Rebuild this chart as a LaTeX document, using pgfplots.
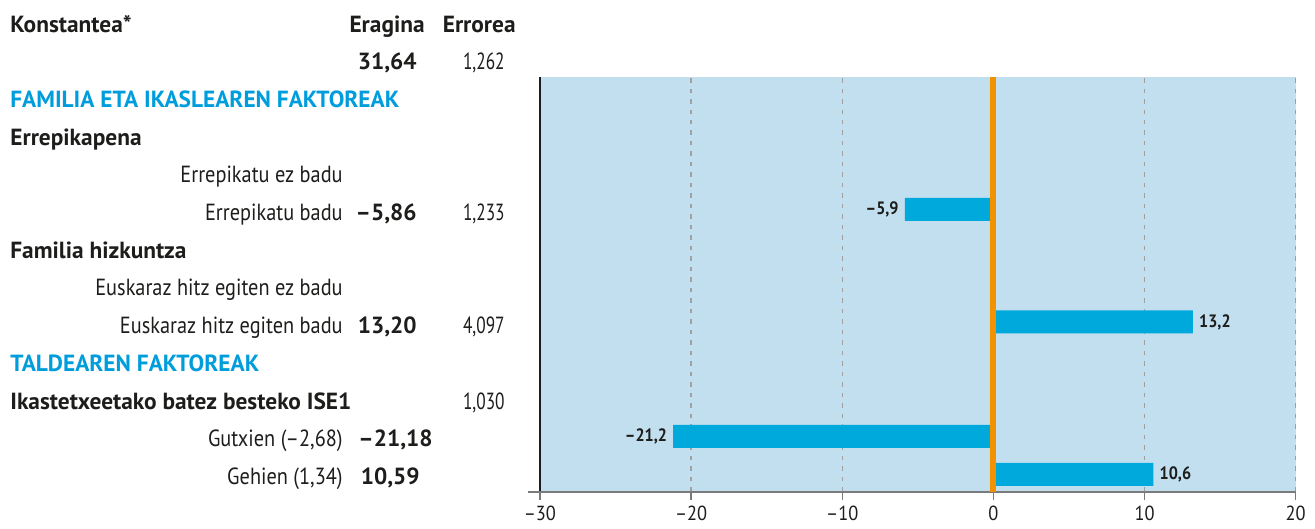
\documentclass[border=0pt]{standalone}
\usepackage{fontspec}
\setmainfont{PT Sans}
\newfontfamily\condfont{PT Sans}[FakeStretch=0.9]
\newfontfamily\regf{PT Sans}[FakeStretch=0.87]
\newfontfamily\numf{PT Sans}[FakeStretch=0.74]
\usepackage{pgfplots}
\pgfplotsset{compat=1.18}
\definecolor{panel}{HTML}{C2DFF0}
\definecolor{barblue}{HTML}{00A9DB}
\definecolor{headblue}{HTML}{009DDC}
\definecolor{zeroline}{HTML}{F39200}
\definecolor{txt}{HTML}{1D1D1B}
\definecolor{gridgray}{HTML}{A0A0A0}
\definecolor{axisgray}{HTML}{7A7A7A}
\begin{document}
\begin{tikzpicture}[x=0.02cm,y=-0.02cm]
\useasboundingbox (0,0) rectangle (1315,528);
\begin{axis}[
 at={(10.8cm,-9.84cm)}, anchor=south west,
 scale only axis, width=15.12cm, height=8.3cm,
 xmin=-30, xmax=20, ymin=36, ymax=451,
 axis background/.style={fill=panel},
 axis x line*=bottom, axis y line*=left,
 x axis line style={-, draw=axisgray, line width=1.6pt},
 y axis line style={-, draw=txt, line width=0.8pt},
 xtick={-30,-20,-10,0,10,20},
 xticklabels={–30,–20,–10,0,10,20},
 ytick=\empty,
 tick align=outside,
 major tick length=0.17cm,
 x tick style={draw=axisgray, line width=0.8pt},
 xmajorgrids, grid style={gridgray, dash pattern=on 0.09cm off 0.12cm, line width=0.7pt},
 xticklabel style={font=\condfont\fontsize{11.6}{12}\selectfont, text=txt, inner sep=0pt, yshift=-0.1cm},
 xbar, bar width=23, bar shift=0pt,
 point meta=explicit symbolic,
 clip=false,
]
\addplot[fill=barblue, draw=none, nodes near coords,
  every node near coord/.append style={anchor=east, font=\condfont\bfseries\fontsize{10.2}{11}\selectfont, text=txt}]
  coordinates {(-5.86,318.5) [–5,9] (-21.18,91.5) [–21,2]};
\addplot[fill=barblue, draw=none, nodes near coords,
  every node near coord/.append style={anchor=west, font=\condfont\bfseries\fontsize{10.2}{11}\selectfont, text=txt}]
  coordinates {(13.20,206) [13,2] (10.59,53.5) [10,6]};
\draw[zeroline, line width=3.4pt] (axis cs:0,36) -- (axis cs:0,451);
\end{axis}
\draw[axisgray, line width=1.6pt] (528,492) -- (541,492);
\begin{scope}[every node/.style={inner sep=0, text=txt, font=\fontsize{13.3}{15}\selectfont}]
\node[anchor=base west] at (10,32) {\bfseries Konstantea*};
\node[anchor=base east] at (425,32) {\bfseries Eragina};
\node[anchor=base east] at (516,32) {\bfseries Errorea};
\node[anchor=base east] at (417,69.7) {\bfseries 31,64};
\node[anchor=base east] at (505,69.7) {\numf 1,262};
\node[anchor=base west, text=headblue] at (10,107.4) {\bfseries FAMILIA ETA IKASLEAREN FAKTOREAK};
\node[anchor=base west] at (10,145.1) {\bfseries Errepikapena};
\node[anchor=base east] at (343,182.8) {\regf Errepikatu ez badu};
\node[anchor=base east] at (343,220.5) {\regf Errepikatu badu};
\node[anchor=base east] at (417,220.5) {\bfseries –5,86};
\node[anchor=base east] at (505,220.5) {\numf 1,233};
\node[anchor=base west] at (10,258.2) {\bfseries Familia hizkuntza};
\node[anchor=base east] at (343,295.9) {\regf Euskaraz hitz egiten ez badu};
\node[anchor=base east] at (343,333.6) {\regf Euskaraz hitz egiten badu};
\node[anchor=base east] at (417,333.6) {\bfseries 13,20};
\node[anchor=base east] at (505,333.6) {\numf 4,097};
\node[anchor=base west, text=headblue] at (10,371.3) {\bfseries TALDEAREN FAKTOREAK};
\node[anchor=base west] at (10,409) {\bfseries Ikastetxeetako batez besteko ISE1};
\node[anchor=base east] at (505,409) {\numf 1,030};
\node[anchor=base east] at (343,446.7) {\regf Gutxien (–2,68)};
\node[anchor=base east] at (433,446.7) {\bfseries –21,18};
\node[anchor=base east] at (343,484.4) {\regf Gehien (1,34)};
\node[anchor=base east] at (420,484.4) {\bfseries 10,59};
\end{scope}
\end{tikzpicture}
\end{document}
